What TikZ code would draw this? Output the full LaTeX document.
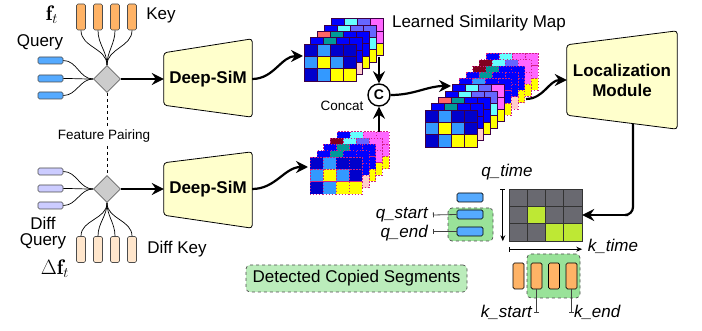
\documentclass[tikz,border=0pt]{standalone}
\usepackage{fontspec}
\setsansfont{Liberation Sans}
\usetikzlibrary{shapes.geometric,arrows.meta,positioning,calc,backgrounds}

\definecolor{mapdb}{RGB}{0,0,204}
\definecolor{maplb}{RGB}{51,153,255}
\definecolor{mapbl}{RGB}{0,0,255}
\definecolor{mapyl}{RGB}{255,255,0}
\definecolor{mapteal}{RGB}{0,153,153}
\definecolor{mapsal}{RGB}{255,102,102}
\definecolor{mapcy}{RGB}{102,255,255}
\definecolor{mapvio}{RGB}{102,102,255}
\definecolor{mapmag}{RGB}{255,102,255}
\definecolor{mappink}{RGB}{255,204,204}
\definecolor{mapmar}{RGB}{128,0,32}
\definecolor{mapedge}{RGB}{60,0,70}
\definecolor{qblue}{RGB}{85,170,255}
\definecolor{dqblue}{RGB}{204,204,255}
\definecolor{korange}{RGB}{255,179,102}
\definecolor{dkpeach}{RGB}{255,230,204}
\definecolor{modfill}{RGB}{255,255,204}
\definecolor{matgray}{RGB}{105,105,112}
\definecolor{matlime}{RGB}{190,232,52}
\definecolor{segfill}{RGB}{153,226,153}
\definecolor{detfill}{RGB}{187,236,187}

% one 4x3 layer of a similarity map: base x, base y, depth, cell style, colours
\newcommand{\maplayer}[5]{%
  \foreach \cc [count=\i from 0] in {#5}{%
    \pgfmathsetmacro{\cx}{#1+6.8*#3+13*mod(\i,4)}%
    \pgfmathsetmacro{\cy}{#2-6.3*#3+12.3*floor(\i/4)}%
    \draw[#4, fill=\cc] (\cx,\cy) rectangle ++(13,12.3);%
  }}

% trapezoid round a module node: node, rise at top right, drop at bottom right
\newcommand{\moduleshape}[3]{%
  \draw[modbox] (#1.north west) -- ([yshift=#2]#1.north east)
    -- ([yshift=-#3]#1.south east) -- (#1.south west) -- cycle;}

\begin{document}
\begin{tikzpicture}[
    x=1pt, y=-1pt,
    lbl/.style={font=\sffamily\fontsize{17}{17}\selectfont},
    slbl/.style={font=\sffamily\fontsize{13.5}{14}\selectfont},
    vlbl/.style={font=\sffamily\itshape\fontsize{17}{17}\selectfont},
    mlbl/.style={font=\fontsize{21}{21}\selectfont},
    modtext/.style={font=\sffamily\bfseries\fontsize{17}{20}\selectfont, align=center, inner sep=0pt},
    modbox/.style={draw, line width=0.8pt, rounded corners=3pt, fill=modfill},
    qvec/.style={rectangle, draw=black!70, line width=0.7pt, rounded corners=1.5pt, minimum width=25pt, minimum height=7pt, inner sep=0pt},
    kvec/.style={rectangle, draw=black!70, line width=0.7pt, rounded corners=1.5pt, minimum width=9pt, minimum height=26pt, inner sep=0pt},
    pair/.style={diamond, draw=black!60, fill=black!20, line width=0.7pt, minimum size=27pt, inner sep=0pt},
    solidcell/.style={draw=mapedge, line width=0.7pt},
    dashcell/.style={draw=magenta!85!black, line width=0.6pt, dash pattern=on 1.5pt off 1.5pt},
    matcell/.style={draw=black!80, line width=0.8pt},
    wire/.style={line width=0.7pt},
    arrow/.style={-{Stealth[length=12pt,width=12pt,inset=4pt]}, line width=2.2pt},
    tick/.style={line width=0.8pt, draw=black!75},
    dimarrow/.style={{Bar[width=5pt]}-{Stealth[length=6pt,width=5pt]}, line width=0.7pt},
    segbox/.style={draw=black!70, dashed, line width=0.7pt, rounded corners=4pt, inner sep=0pt}
]
\useasboundingbox (0,0) rectangle (702,331);

% Top: query and key features
\node[qvec, fill=qblue] (q1) at (50.5,60.5) {};
\node[qvec, fill=qblue] (q2) at (50.5,78.5) {};
\node[qvec, fill=qblue] (q3) at (50.5,95.5) {};
\foreach \n/\x in {1/81,2/98,3/115,4/132}
  \node[kvec, fill=korange] (k\n) at (\x,17) {};
\node[lbl] at (40,42) {Query};
\node[lbl] at (161,15) {Key};
\node[mlbl] at (52,15) {$\mathbf{f}_t$};
\node[pair] (pair1) at (107,79) {};
\foreach \n in {1,2,3}
  \draw[wire] (q\n.east) to[out=0, in=180] (pair1.west);
\foreach \n in {1,...,4}
  \draw[wire] (k\n.south) to[out=-90, in=90] (pair1.north);

% Bottom: diff query and diff key features
\node[qvec, fill=dqblue] (dq1) at (50.5,171.5) {};
\node[qvec, fill=dqblue] (dq2) at (50.5,188.5) {};
\node[qvec, fill=dqblue] (dq3) at (50.5,205.5) {};
\foreach \n/\x in {1/81,2/98,3/115,4/132}
  \node[kvec, fill=dkpeach] (dk\n) at (\x,249.5) {};
\node[lbl, align=center, font=\sffamily\fontsize{17}{15.5}\selectfont] at (43,233) {Diff\\Query};
\node[lbl] at (177,249) {Diff Key};
\node[mlbl] at (55,269) {$\Delta\mathbf{f}_t$};
\node[pair] (pair2) at (107,189) {};
\foreach \n in {1,2,3}
  \draw[wire] (dq\n.east) to[out=0, in=180] (pair2.west);
\foreach \n in {1,...,4}
  \draw[wire] (dk\n.north) to[out=90, in=-90] (pair2.south);

% Feature pairing link
\node[slbl] (fp) at (104,136) {Feature Pairing};
\draw[wire, dash pattern=on 3pt off 3pt] (pair1.south) -- (pair1.south |- fp.north);
\draw[wire, dash pattern=on 3pt off 3pt] (pair2.north |- fp.south) -- (pair2.north);

% Deep-SiM modules
\node[modtext, minimum width=88pt, minimum height=52pt] (dsim1) at (208,79) {Deep-SiM};
\node[modtext, minimum width=88pt, minimum height=52pt] (dsim2) at (208,189) {Deep-SiM};
\node[modtext, minimum width=110pt, minimum height=70pt] (loc) at (622,80) {Localization\\Module};
\begin{pgfonlayer}{background}
  \draw[line width=2.2pt, rounded corners=8pt] ([xshift=11pt]loc.center) |- ([xshift=6pt]loc.center |- 0,215);
  \moduleshape{dsim1}{14pt}{12pt}
  \moduleshape{dsim2}{11pt}{13pt}
  \moduleshape{loc}{14pt}{14pt}
\end{pgfonlayer}
\draw[arrow] (pair1.east) -- (dsim1.west);
\draw[arrow] (pair2.east) -- (dsim2.west);

% Learned similarity maps (top: solid, bottom: dashed)
\maplayer{304}{44}{4}{solidcell}{mapbl,mapcy,mapvio,mapmag, mapbl,mapvio,mapvio,mapmag, mapbl,mapbl,mapmag,mapyl}
\maplayer{304}{44}{3}{solidcell}{mapbl,mapcy,mapvio,mapvio, mapbl,mapbl,mapvio,mapcy, mapbl,mapbl,mapbl,mapyl}
\maplayer{304}{44}{2}{solidcell}{mapsal,mapteal,mapbl,mapbl, mapbl,mapbl,mapbl,mapbl, mapbl,mapbl,mapbl,mapyl}
\maplayer{304}{44}{1}{solidcell}{mapbl,mapteal,mapbl,mapbl, mapbl,mapbl,mapbl,mapbl, mapbl,mapbl,mapyl,mappink}
\maplayer{304}{44}{0}{solidcell}{mapdb,maplb,mapdb,mapdb, maplb,mapyl,maplb,mapdb, mapdb,maplb,mapyl,mapyl}

\maplayer{310}{157}{4}{dashcell}{mapbl,mapcy,mapmag,mapmag, mapbl,mapvio,mapmag,mapmag, mapbl,mapmag,mapmag,mapyl}
\maplayer{310}{157}{3}{dashcell}{mapmar,mapcy,mapvio,mapmag, mapbl,mapbl,mapvio,mapmag, mapbl,mapbl,mapmag,mapyl}
\maplayer{310}{157}{2}{dashcell}{mapbl,mapteal,mapbl,mapbl, mapbl,mapbl,mapbl,mapbl, mapbl,mapbl,mapbl,mapyl}
\maplayer{310}{157}{1}{dashcell}{mapbl,mapteal,mapbl,mapbl, mapbl,mapbl,mapbl,mapbl, mapbl,mapbl,mapyl,mappink}
\maplayer{310}{157}{0}{dashcell}{mapdb,maplb,mapdb,mapdb, maplb,mapyl,maplb,mapdb, mapdb,maplb,mapyl,mapyl}

% Concatenated map
\maplayer{425}{110}{9}{dashcell}{mapbl,mapcy,mapmag,mapmag, mapbl,mapvio,mapmag,mapmag, mapbl,mapmag,mapmag,mapyl}
\maplayer{425}{110}{8}{dashcell}{mapmar,mapcy,mapvio,mapmag, mapbl,mapbl,mapvio,mapmag, mapbl,mapbl,mapmag,mapyl}
\maplayer{425}{110}{7}{dashcell}{mapmar,mapteal,mapbl,mapbl, mapbl,mapbl,mapbl,mapbl, mapbl,mapbl,mapbl,mapyl}
\maplayer{425}{110}{6}{dashcell}{mapbl,mapteal,mapbl,mapbl, mapbl,mapbl,mapbl,mapbl, mapbl,mapbl,mapyl,mappink}
\maplayer{425}{110}{5}{dashcell}{mapbl,maplb,mapbl,mapbl, maplb,mapbl,maplb,mapbl, mapbl,maplb,mapyl,mapyl}
\maplayer{425}{110}{4}{solidcell}{mapbl,mapcy,mapvio,mapmag, mapbl,mapvio,mapvio,mapmag, mapbl,mapbl,mapmag,mapyl}
\maplayer{425}{110}{3}{solidcell}{mapbl,mapcy,mapvio,mapvio, mapbl,mapbl,mapvio,mapcy, mapbl,mapbl,mapbl,mapyl}
\maplayer{425}{110}{2}{solidcell}{mapsal,mapteal,mapbl,mapbl, mapbl,mapbl,mapbl,mapbl, mapbl,mapbl,mapbl,mapyl}
\maplayer{425}{110}{1}{solidcell}{mapbl,mapteal,mapbl,mapbl, mapbl,mapbl,mapbl,mapbl, mapbl,mapbl,mapyl,mappink}
\maplayer{425}{110}{0}{solidcell}{mapdb,maplb,mapdb,mapdb, maplb,mapyl,maplb,mapdb, mapdb,maplb,mapyl,mapyl}

\node[lbl] at (479,23) {Learned Similarity Map};

% Concat and map arrows
\node[circle, draw, line width=1.4pt, minimum size=22pt, inner sep=0pt, font=\sffamily\bfseries\fontsize{14}{14}\selectfont] (cat) at (379,95) {C};
\node[slbl] at (342,106) {Concat};
\coordinate (map1in) at (303,56);
\coordinate (map2in) at (308,167);
\coordinate (map1out) at (379,57);
\coordinate (map2out) at (379,132);
\coordinate (map3in) at (451,86);
\coordinate (map3out) at (526,99);
\draw[arrow] (dsim1.east) to[out=0, in=180] (map1in);
\draw[arrow] (dsim2.east) to[out=0, in=180] (map2in);
\draw[arrow] (map1out) -- (cat.north);
\draw[arrow] (map2out) -- (cat.south);
\draw[arrow] (cat.east) to[out=0, in=180] (map3in);
\draw[arrow] (map3out) to[out=0, in=180] (loc.west);

% Output similarity matrix
\node[minimum width=73pt, minimum height=52pt, inner sep=0pt] (simmat) at (545.5,215) {};
\foreach \c in {0,...,3}
  \foreach \r in {0,1,2}
    \draw[matcell, fill=matgray] ({509+18.25*\c},{189+17.33*\r}) rectangle ++(18.25,17.33);
\foreach \c/\r in {1/1,2/2,3/2}
  \draw[matcell, fill=matlime] ({509+18.25*\c},{189+17.33*\r}) rectangle ++(18.25,17.33);
\draw[arrow] ([xshift=6pt]loc.center |- simmat.east) -- (simmat.east);
\draw[dimarrow] ([xshift=-6pt]simmat.north west) -- ([xshift=-6pt]simmat.south west);
\draw[dimarrow] ([yshift=-8pt]simmat.south west) -- ([yshift=-8pt]simmat.south east);
\node[vlbl] at (507,172) {q\_time};
\node[vlbl] at (613,246) {k\_time};

% Detected query segment
\node[segbox, fill=segfill, minimum width=45pt, minimum height=33pt] (qseg) at (470.5,224.5) {};
\node[qvec, draw=black, fill=qblue, minimum width=26pt, minimum height=9pt] (rq1) at (470,197.5) {};
\node[qvec, draw=black, fill=qblue, minimum width=26pt, minimum height=9pt] (rq2) at (470,214.5) {};
\node[qvec, draw=black, fill=qblue, minimum width=26pt, minimum height=9pt] (rq3) at (470,231.5) {};
\node[vlbl, anchor=east, inner sep=0pt] (qs) at (428,215) {q\_start};
\node[vlbl, anchor=east, inner sep=0pt] (qe) at (428,233) {q\_end};
\draw[tick, {Bar[width=5pt]}-] ([xshift=5pt]qs.east) -- (rq2.west);
\draw[tick, {Bar[width=5pt]}-] ([xshift=5pt]qe.east |- rq3.west) -- (rq3.west);

% Detected key segment
\node[segbox, fill=segfill, minimum width=53pt, minimum height=44pt] (kseg) at (553.5,276) {};
\foreach \n/\x in {1/518.5,2/536.5,3/554,4/571.5}
  \node[kvec, draw=black, fill=korange, minimum width=11pt] (rk\n) at (\x,276) {};
\coordinate (kst) at ([yshift=-23pt]rk2.south);
\coordinate (ken) at ([yshift=-23pt]rk4.south);
\draw[tick, -{Bar[width=5pt]}] (rk2.south) -- (kst);
\draw[tick, -{Bar[width=5pt]}] (rk4.south) -- (ken);
\node[vlbl, anchor=east] at ([xshift=-1pt]kst) {k\_start};
\node[vlbl, anchor=west] at ([xshift=-1pt]ken) {k\_end};

\node[segbox, fill=detfill, lbl, minimum width=221pt, minimum height=27pt] (det) at (356.5,278.5) {Detected Copied Segments};

\end{tikzpicture}
\end{document}
